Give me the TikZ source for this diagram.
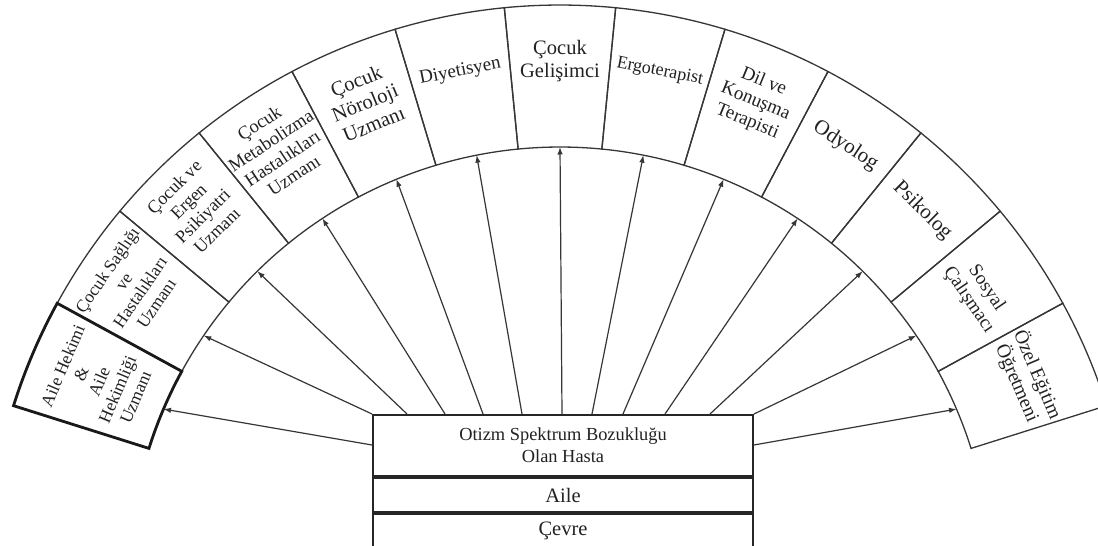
\documentclass[tikz,border=0pt]{standalone}
\usepackage{fontspec}
\setmainfont{Liberation Serif}
\usetikzlibrary{calc,arrows.meta}
\definecolor{ln}{HTML}{363636}
\definecolor{tx}{HTML}{222222}
\tikzset{
  sec/.style={draw=ln, line width=1.3pt},
  secthick/.style={draw=black!90, line width=2.8pt},
  lbl/.style={text=tx, align=center, inner sep=0pt},
  boxrow/.style={draw=black!85, line width=2pt, minimum width=380pt, inner sep=0pt, text=tx, anchor=north west},
  arr/.style={draw=ln, line width=1.2pt, -{Latex[length=7.5pt,width=5.5pt]}}
}
\newcommand{\mkseclabel}[4]{%
  \pgfmathsetmacro\secang{162.5-(#1+0.5)*145/13}%
  \pgfmathsetmacro\secbs{#3*1.13}%
  \node[lbl, rotate=\secang-90, font=\fontsize{#3pt}{\secbs pt}\selectfont] (s#1) at ($(C)+(\secang:#2)$) {#4};%
  \coordinate (t#1) at ($(C)+(\secang:431)$);%
}
\begin{document}
\begin{tikzpicture}[x=1pt,y=1pt]
\fill[white] (0,0) rectangle (1098,546);
\useasboundingbox (0,0) rectangle (1098,546);
\coordinate (C) at (560,-32);
% sectors
\foreach \k in {0,...,12}{
  \pgfmathsetmacro\aa{162.5-\k*145/13}
  \pgfmathsetmacro\ab{162.5-(\k+1)*145/13}
  \draw[sec] ($(C)+(\aa:431)$) arc[start angle=\aa, end angle=\ab, radius=431]
     -- ($(C)+(\ab:573)$) arc[start angle=\ab, end angle=\aa, radius=573] -- cycle;
}
\pgfmathsetmacro\ab{162.5-145/13}
\draw[secthick] ($(C)+(162.5:431)$) arc[start angle=162.5, end angle=\ab, radius=431]
   -- ($(C)+(\ab:573)$) arc[start angle=\ab, end angle=162.5, radius=573] -- cycle;
% labels
\mkseclabel{0}{501}{17.5}{Aile Hekimi\\\&\\Aile\\Hekimliği\\Uzmanı}
\mkseclabel{1}{518}{17.5}{Çocuk Sağlığı\\ve\\Hastalıkları\\Uzmanı}
\mkseclabel{2}{519}{18}{Çocuk ve\\Ergen\\Psikiyatri\\Uzmanı}
\mkseclabel{3}{514}{18.5}{Çocuk\\Metabolizma\\Hastalıkları\\Uzmanı}
\mkseclabel{4}{514}{20.5}{Çocuk\\Nöroloji\\Uzmanı}
\mkseclabel{5}{516}{19}{Diyetisyen}
\mkseclabel{6}{517}{20.5}{Çocuk\\Gelişimci}
\mkseclabel{7}{516}{18}{Ergoterapist}
\mkseclabel{8}{515}{19}{Dil ve\\Konuşma\\Terapisti}
\mkseclabel{9}{518}{21}{Odyolog}
\mkseclabel{10}{516}{21}{Psikolog}
\mkseclabel{11}{505}{19}{Sosyal\\Çalışmacı}
\mkseclabel{12}{508}{19.5}{Özel Eğitim\\Öğretmeni}
% central box
\node[boxrow, minimum height=61pt, font=\fontsize{18.4pt}{22pt}\selectfont, align=center] (hasta) at (372,132) {Otizm Spektrum Bozukluğu\\Olan Hasta};
\node[boxrow, minimum height=34pt, font=\fontsize{20.5pt}{24pt}\selectfont] (aile) at (hasta.south west) {Aile};
\node[boxrow, minimum height=34pt, font=\fontsize{20.5pt}{24pt}\selectfont] (cevre) at (aile.south west) {Çevre};
% arrow starts
\coordinate (a0) at ($(hasta.north west)+(0,-31)$);
\coordinate (a1) at (hasta.north west);
\coordinate (a2) at ($(hasta.north west)+(35,0)$);
\coordinate (a3) at ($(hasta.north west)+(73,0)$);
\coordinate (a4) at ($(hasta.north west)+(111,0)$);
\coordinate (a5) at ($(hasta.north west)+(150,0)$);
\coordinate (a6) at ($(hasta.north west)+(190,0)$);
\coordinate (a7) at ($(hasta.north west)+(220,0)$);
\coordinate (a8) at ($(hasta.north west)+(251,0)$);
\coordinate (a9) at ($(hasta.north west)+(293,0)$);
\coordinate (a10) at ($(hasta.north west)+(338,0)$);
\coordinate (a11) at (hasta.north east);
\coordinate (a12) at ($(hasta.north east)+(0,-31)$);
\foreach \i in {0,...,12}{
  \draw[arr] (a\i) -- (t\i);
}
\end{tikzpicture}
\end{document}
